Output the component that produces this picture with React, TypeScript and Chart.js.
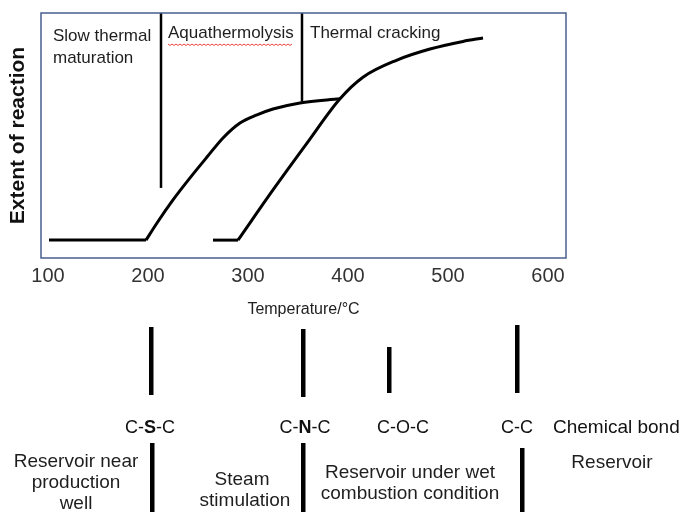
import React, { useEffect, useRef } from 'react';
import { Chart, registerables } from 'chart.js';

Chart.register(...registerables);

const FONT = '"Liberation Sans", Arial, Helvetica, sans-serif';

// ---- data (temperature in °C, extent of reaction in arbitrary %) ----
const xTicks = [100, 200, 300, 400, 500, 600];

const slowFlatT = [101, 198];
const slowFlatE = [7.3, 7.3];
const slowRiseT = [198, 209, 225, 242, 259, 275, 292, 309, 325, 352, 392];
const slowRiseE = [7.3, 14.3, 23.7, 32.7, 41.2, 49.0, 55.1, 58.4, 60.8, 63.3, 65.0];

const crackFlatT = [265, 290];
const crackFlatE = [7.3, 7.3];
const crackRiseT = [290, 325, 359, 392, 415, 449, 482, 515, 535];
const crackRiseE = [7.3, 27.8, 46.9, 65.0, 73.8, 80.8, 85.3, 88.4, 89.8];

const boundaryT = [213, 354];
const boundaryLowE = [28.6, 63.8];

const phaseLabels = ['Slow thermal\nmaturation', 'Aquathermolysis', 'Thermal cracking'];

const bondT = [203, 355, 441, 569];
const bondLabels = ['C-S-C', 'C-N-C', 'C-O-C', 'C-C'];
const bondBold = ['S', 'N', '', ''];
const bondCaption = 'Chemical bond';

const reservoirT = [204, 355, 574];
const reservoirLabels = [
  'Reservoir near\nproduction\nwell',
  'Steam\nstimulation',
  'Reservoir under wet\ncombustion condition',
  'Reservoir',
];

const pts = (xs: number[], ys: number[]) => xs.map((x, i) => ({ x, y: ys[i] }));

const lineDs = (data: any[], width: number, smooth: boolean) => ({
  data,
  borderColor: '#000000',
  backgroundColor: '#000000',
  borderWidth: width,
  pointRadius: 0,
  fill: false,
  tension: smooth ? 0.4 : 0,
  cubicInterpolationMode: smooth ? 'monotone' : 'default',
  borderCapStyle: 'butt',
  borderJoinStyle: 'round',
});

const overlayPlugin = {
  id: 'overlay',
  afterDraw(chart: any) {
    const ctx = chart.ctx as CanvasRenderingContext2D;
    const { left, top, right, bottom } = chart.chartArea;
    const xs = chart.scales.x;
    ctx.save();

    // frame
    ctx.strokeStyle = '#4A5F8E';
    ctx.lineWidth = 1.5;
    ctx.strokeRect(left, top, right - left, bottom - top);

    // phase labels inside plot
    ctx.fillStyle = '#1e1e1e';
    ctx.font = `17px ${FONT}`;
    ctx.textBaseline = 'middle';
    ctx.textAlign = 'left';
    const b1 = xs.getPixelForValue(boundaryT[0]);
    const b2 = xs.getPixelForValue(boundaryT[1]);
    const slow = phaseLabels[0].split('\n');
    slow.forEach((s, i) => ctx.fillText(s, left + 12, top + 23 + i * 22));
    ctx.fillText(phaseLabels[1], b1 + 7, top + 20);
    ctx.fillText(phaseLabels[2], b2 + 8, top + 20);

    // red wavy spell-check underline under Aquathermolysis
    const w = ctx.measureText(phaseLabels[1]).width;
    ctx.strokeStyle = '#E8453C';
    ctx.lineWidth = 1;
    ctx.beginPath();
    const ux0 = b1 + 7;
    for (let x = 0; x <= w; x += 2) {
      const y = top + 31 + ((x / 2) % 2 === 0 ? 0 : 1.5);
      if (x === 0) ctx.moveTo(ux0 + x, y);
      else ctx.lineTo(ux0 + x, y);
    }
    ctx.stroke();

    // axis title
    ctx.fillStyle = '#222222';
    ctx.font = `16px ${FONT}`;
    ctx.textAlign = 'center';
    ctx.fillText('Temperature/\u00B0C', (left + right) / 2, 310);

    // bond bars
    ctx.fillStyle = '#000000';
    const barY = [[327, 395], [329, 397], [347, 393], [325, 393]];
    bondT.forEach((t, i) => {
      const x = xs.getPixelForValue(t);
      ctx.fillRect(Math.round(x) - 2, barY[i][0], 4.5, barY[i][1] - barY[i][0]);
    });

    // bond labels with bold heteroatom
    const labelX = [150, 305, 403, 517];
    const fontN = `18px ${FONT}`;
    const fontB = `bold 18px ${FONT}`;
    ctx.fillStyle = '#111111';
    ctx.textAlign = 'left';
    bondLabels.forEach((lab, i) => {
      const bold = bondBold[i];
      let parts: [string, string][];
      if (bold) {
        const k = lab.indexOf(bold);
        parts = [[lab.slice(0, k), fontN], [bold, fontB], [lab.slice(k + 1), fontN]];
      } else parts = [[lab, fontN]];
      let total = 0;
      parts.forEach(([s, f]) => { ctx.font = f; total += ctx.measureText(s).width; });
      let x = labelX[i] - total / 2;
      parts.forEach(([s, f]) => { ctx.font = f; ctx.fillText(s, x, 428); x += ctx.measureText(s).width; });
    });
    ctx.font = `19px ${FONT}`;
    ctx.fillText(bondCaption, 553, 428);

    // reservoir bars
    ctx.fillStyle = '#000000';
    const resTop = [443, 443, 448];
    reservoirT.forEach((t, i) => {
      const x = xs.getPixelForValue(t);
      ctx.fillRect(Math.round(x) - 2, resTop[i], 4.5, 512 - resTop[i]);
    });

    // reservoir labels
    ctx.fillStyle = '#1e1e1e';
    ctx.font = `19px ${FONT}`;
    ctx.textAlign = 'center';
    const resPos = [[76, 462], [242, 480], [410, 473], [612, 463]];
    reservoirLabels.forEach((lab, i) => {
      lab.split('\n').forEach((s, j) => {
        ctx.fillText(s, resPos[i][0] + (i === 1 && j === 1 ? 3 : 0), resPos[i][1] + j * 21);
      });
    });

    ctx.restore();
  },
};

export default function App() {
  const ref = useRef<HTMLCanvasElement>(null);
  useEffect(() => {
    if (!ref.current) return;
    const datasets: any[] = [
      lineDs(pts(slowFlatT, slowFlatE), 3, false),
      lineDs(pts(slowRiseT, slowRiseE), 3, true),
      lineDs(pts(crackFlatT, crackFlatE), 3, false),
      lineDs(pts(crackRiseT, crackRiseE), 3, true),
      ...boundaryT.map((t, i) => lineDs(pts([t, t], [boundaryLowE[i], 100]), 2.5, false)),
    ];
    const chart = new Chart(ref.current, {
      type: 'line',
      data: { datasets },
      options: {
        responsive: false,
        animation: false,
        devicePixelRatio: 1,
        layout: { padding: { left: 0, top: 13, right: 120, bottom: 0 } },
        plugins: { legend: { display: false }, tooltip: { enabled: false } },
        scales: {
          x: {
            type: 'linear',
            min: 93,
            max: 618,
            grid: { display: false },
            border: { display: false },
            afterBuildTicks: (axis: any) => {
              axis.ticks = xTicks.map((v) => ({ value: v }));
            },
            ticks: {
              color: '#333333',
              font: { family: FONT, size: 20 },
              padding: -2,
              maxRotation: 0,
              autoSkip: false,
            },
            afterFit: (axis: any) => {
              axis.height = 254;
            },
          },
          y: {
            type: 'linear',
            min: 0,
            max: 100,
            grid: { display: false },
            border: { display: false },
            ticks: { display: false },
            title: {
              display: true,
              text: 'Extent of reaction',
              color: '#111111',
              font: { family: FONT, size: 21, weight: 'bold' },
              padding: { top: 6, bottom: 0 },
            },
            afterFit: (axis: any) => {
              axis.width = 41;
            },
          },
        },
      },
      plugins: [overlayPlugin],
    } as any);
    return () => chart.destroy();
  }, []);
  return (
    <div style={{ position: 'fixed', left: 0, top: 0, width: 686, height: 512, background: '#ffffff' }}>
      <canvas ref={ref} width={686} height={512} style={{ width: 686, height: 512, display: 'block' }} />
    </div>
  );
}
